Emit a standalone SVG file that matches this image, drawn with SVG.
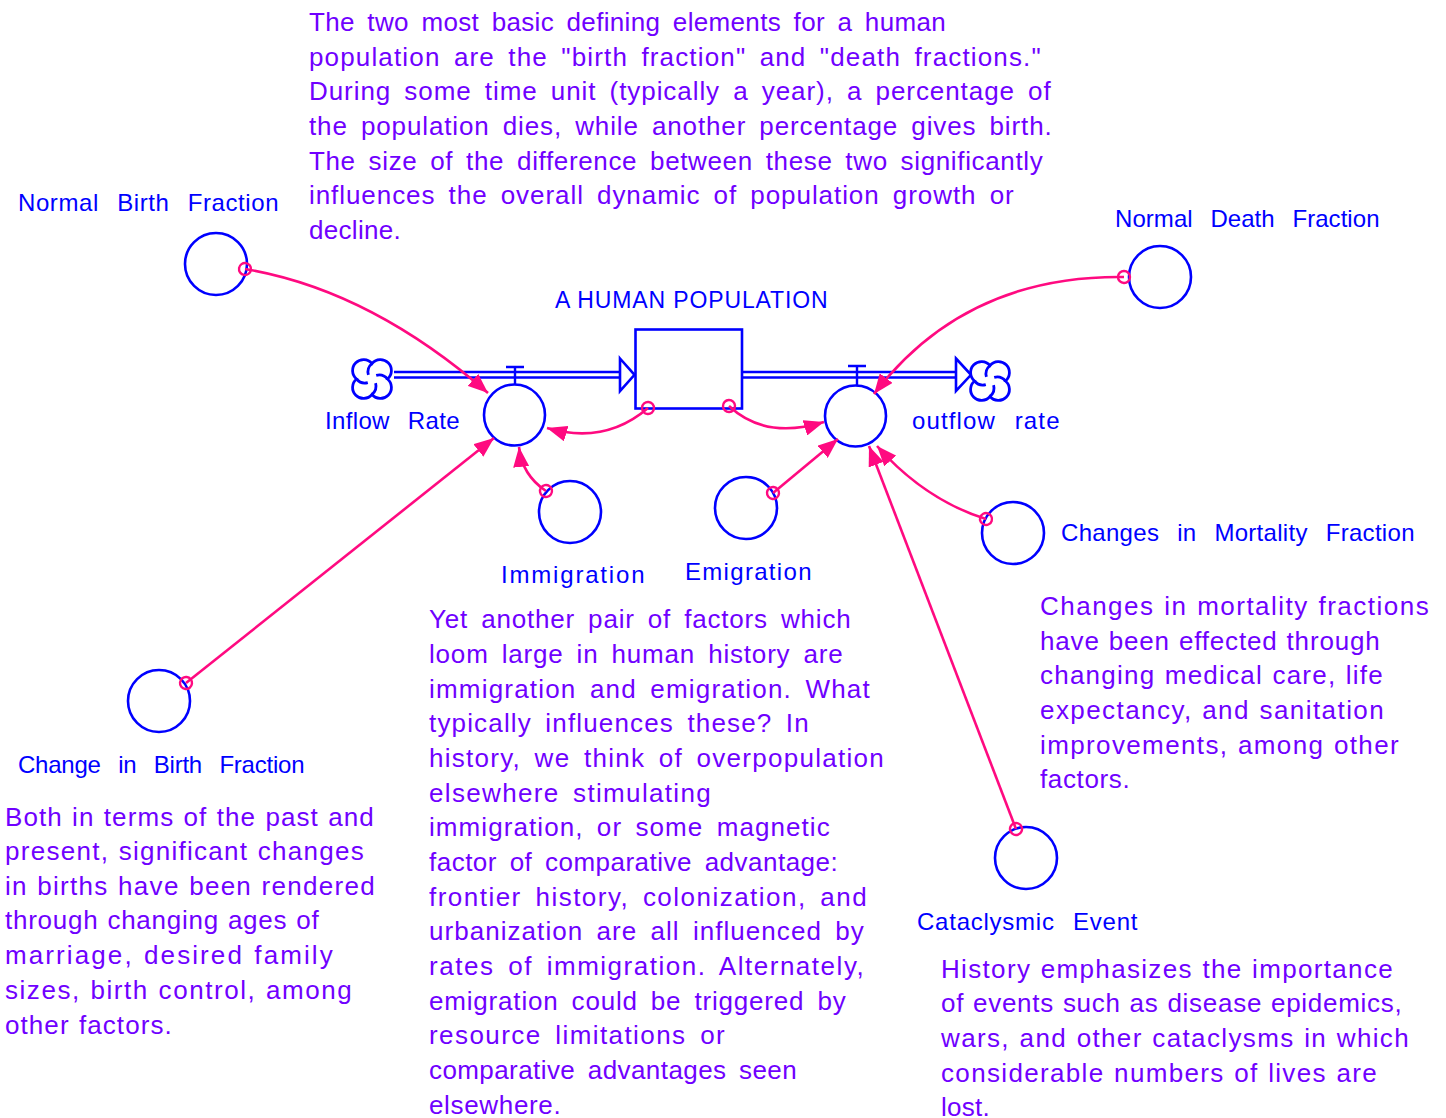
<svg xmlns="http://www.w3.org/2000/svg" width="1446" height="1118" viewBox="0 0 1446 1118">
<defs>
<style>
.lbl{font-family:"Liberation Sans",Arial,sans-serif;font-size:24px;fill:#0000ff;letter-spacing:0.5px;word-spacing:11px}
.note{font-family:"Liberation Sans",Arial,sans-serif;font-size:26px;fill:#7000ff;letter-spacing:0.3px;word-spacing:5px}
.tight .note{word-spacing:1px}
.aux{fill:#fff;stroke:#0000ff;stroke-width:2.6}
.pipe{fill:none;stroke:#0000ff;stroke-width:2.4}
.link{fill:none;stroke:#ff0a80;stroke-width:2.6;marker-start:url(#org);marker-end:url(#arr)}
.cloud{fill:#fff;stroke:#0000ff;stroke-width:2.8}
</style>
<marker id="arr" viewBox="0 0 20 16" refX="20" refY="8" markerWidth="20" markerHeight="16" markerUnits="userSpaceOnUse" orient="auto">
<path d="M0,0 L20,8 L0,16 Z" fill="#ff0a80"/>
</marker>
<marker id="org" viewBox="0 0 18 18" refX="9" refY="9" markerWidth="18" markerHeight="18" markerUnits="userSpaceOnUse" orient="auto">
<circle cx="9" cy="9" r="6" fill="none" stroke="#ff0a80" stroke-width="2.4"/>
</marker>
<g id="cloudshape">
<path d="M0,-15.5 A11,11 0 1,1 15.5,0 A11,11 0 1,1 0,15.5 A11,11 0 1,1 -15.5,0 A11,11 0 1,1 0,-15.5 Z"/>
<path fill="none" d="M0,-15.5 A11,11 0 0,0 -3.6,-4.2 M15.5,0 A11,11 0 0,0 4.2,-3.6 M0,15.5 A11,11 0 0,0 3.6,4.2 M-15.5,0 A11,11 0 0,0 -4.2,3.6"/>
</g>
</defs>
<rect width="1446" height="1118" fill="#fff"/>

<g id="flows">
<g id="inflow-pipe">
<line class="pipe" x1="394" y1="372" x2="621" y2="372"/>
<line class="pipe" x1="394" y1="377.5" x2="621" y2="377.5"/>
<path d="M620,358.5 L634.5,374.8 L620,391 Z" fill="#fff" stroke="#0000ff" stroke-width="2.6"/>
</g>
<g id="outflow-pipe">
<line class="pipe" x1="743" y1="372" x2="957" y2="372"/>
<line class="pipe" x1="743" y1="377.5" x2="957" y2="377.5"/>
<path d="M956,358.5 L971,374.8 L956,391 Z" fill="#fff" stroke="#0000ff" stroke-width="2.6"/>
</g>
</g>

<g id="source-cloud" class="cloud"><use href="#cloudshape" x="372" y="379"/></g>
<g id="sink-cloud" class="cloud"><use href="#cloudshape" x="990" y="381"/></g>

<g id="stock">
<rect x="635.5" y="329.5" width="106.5" height="79" fill="#fff" stroke="#0000ff" stroke-width="2.6"/>
<text class="lbl" x="555" y="308" textLength="273" lengthAdjust="spacing" style="font-size:23px;letter-spacing:0.3px;word-spacing:0">A HUMAN POPULATION</text>
</g>

<g id="inflow-rate">
<path d="M506,367 H524 M515,367 V385" stroke="#0000ff" stroke-width="2.4" fill="none"/>
<circle class="aux" cx="514.5" cy="415" r="30.5"/>
<text class="lbl" x="325" y="429" textLength="135" lengthAdjust="spacing">Inflow Rate</text>
</g>

<g id="outflow-rate">
<path d="M848,366 H866 M857,366 V385" stroke="#0000ff" stroke-width="2.4" fill="none"/>
<circle class="aux" cx="855.5" cy="416" r="30.5"/>
<text class="lbl" x="912" y="429" textLength="148" lengthAdjust="spacing">outflow rate</text>
</g>

<g id="normal-birth-fraction">
<circle class="aux" cx="216" cy="264" r="31"/>
<text class="lbl" x="18" y="211" textLength="261" lengthAdjust="spacing">Normal Birth Fraction</text>
</g>

<g id="normal-death-fraction">
<circle class="aux" cx="1160" cy="277" r="31"/>
<text class="lbl" x="1115" y="227" textLength="265" lengthAdjust="spacing">Normal Death Fraction</text>
</g>

<g id="immigration">
<circle class="aux" cx="570" cy="512" r="31"/>
<text class="lbl" x="501" y="583" textLength="144" lengthAdjust="spacing">Immigration</text>
</g>

<g id="emigration">
<circle class="aux" cx="746" cy="508" r="31"/>
<text class="lbl" x="685" y="580" textLength="127" lengthAdjust="spacing">Emigration</text>
</g>

<g id="changes-in-mortality-fraction">
<circle class="aux" cx="1013" cy="533" r="31"/>
<text class="lbl" x="1061" y="541" textLength="354" lengthAdjust="spacing">Changes in Mortality Fraction</text>
</g>

<g id="change-in-birth-fraction">
<circle class="aux" cx="159" cy="701" r="31"/>
<text class="lbl" x="18" y="773" textLength="287" lengthAdjust="spacing">Change in Birth Fraction</text>
</g>

<g id="cataclysmic-event">
<circle class="aux" cx="1026" cy="858" r="31"/>
<text class="lbl" x="917" y="930" textLength="221" lengthAdjust="spacing">Cataclysmic Event</text>
</g>

<g id="connectors">
<path class="link" d="M245,269 Q370,290 488,393"/>
<path class="link" d="M648,408 Q605,445 547,428"/>
<path class="link" d="M729,406 Q765,440 824,422"/>
<path class="link" d="M1124,277 Q965,275 874,394"/>
<path class="link" d="M546,491 Q522,475 519,447"/>
<path class="link" d="M773,493 L838,439"/>
<path class="link" d="M986,519 Q925,500 877,446"/>
<path class="link" d="M1016,829 L869,446"/>
<path class="link" d="M186,683 L494,438"/>
</g>

<g id="note-top">
<text class="note" x="309" y="31" textLength="637" lengthAdjust="spacing">The two most basic defining elements for a human</text>
<text class="note" x="309" y="65.5" textLength="732" lengthAdjust="spacing">population are the "birth fraction" and "death fractions."</text>
<text class="note" x="309" y="100" textLength="742" lengthAdjust="spacing">During some time unit (typically a year), a percentage of</text>
<text class="note" x="309" y="135" textLength="743" lengthAdjust="spacing">the population dies, while another percentage gives birth.</text>
<text class="note" x="309" y="169.5" textLength="734" lengthAdjust="spacing">The size of the difference between these two significantly</text>
<text class="note" x="309" y="204" textLength="705" lengthAdjust="spacing">influences the overall dynamic of population growth or</text>
<text class="note" x="309" y="239" textLength="92" lengthAdjust="spacing">decline.</text>
</g>

<g id="note-birth" class="tight">
<text class="note" x="5" y="826" textLength="369" lengthAdjust="spacing">Both in terms of the past and</text>
<text class="note" x="5" y="860" textLength="359" lengthAdjust="spacing">present, significant changes</text>
<text class="note" x="5" y="895" textLength="370" lengthAdjust="spacing">in births have been rendered</text>
<text class="note" x="5" y="929" textLength="314" lengthAdjust="spacing">through changing ages of</text>
<text class="note" x="5" y="964" textLength="328" lengthAdjust="spacing">marriage,  desired family</text>
<text class="note" x="5" y="999" textLength="347" lengthAdjust="spacing">sizes, birth control, among</text>
<text class="note" x="5" y="1034" textLength="167" lengthAdjust="spacing">other factors.</text>
</g>

<g id="note-migration">
<text class="note" x="429" y="628" textLength="422" lengthAdjust="spacing">Yet another pair of factors which</text>
<text class="note" x="429" y="663" textLength="414" lengthAdjust="spacing">loom large in human history are</text>
<text class="note" x="429" y="698" textLength="441" lengthAdjust="spacing">immigration and emigration. What</text>
<text class="note" x="429" y="732" textLength="380" lengthAdjust="spacing">typically influences these? In</text>
<text class="note" x="429" y="767" textLength="455" lengthAdjust="spacing">history, we think of overpopulation</text>
<text class="note" x="429" y="802" textLength="282" lengthAdjust="spacing">elsewhere stimulating</text>
<text class="note" x="429" y="836" textLength="401" lengthAdjust="spacing">immigration, or some magnetic</text>
<text class="note" x="429" y="871" textLength="409" lengthAdjust="spacing">factor of comparative advantage:</text>
<text class="note" x="429" y="906" textLength="438" lengthAdjust="spacing">frontier history, colonization, and</text>
<text class="note" x="429" y="940" textLength="435" lengthAdjust="spacing">urbanization are all influenced by</text>
<text class="note" x="429" y="975" textLength="435" lengthAdjust="spacing">rates of immigration. Alternately,</text>
<text class="note" x="429" y="1010" textLength="417" lengthAdjust="spacing">emigration could be triggered by</text>
<text class="note" x="429" y="1044" textLength="296" lengthAdjust="spacing">resource limitations or</text>
<text class="note" x="429" y="1079" textLength="368" lengthAdjust="spacing">comparative advantages seen</text>
<text class="note" x="429" y="1114" textLength="132" lengthAdjust="spacing">elsewhere.</text>
</g>

<g id="note-mortality" class="tight">
<text class="note" x="1040" y="615" textLength="389" lengthAdjust="spacing">Changes in mortality fractions</text>
<text class="note" x="1040" y="650" textLength="340" lengthAdjust="spacing">have been effected through</text>
<text class="note" x="1040" y="684" textLength="343" lengthAdjust="spacing">changing medical care, life</text>
<text class="note" x="1040" y="719" textLength="344" lengthAdjust="spacing">expectancy,  and sanitation</text>
<text class="note" x="1040" y="754" textLength="359" lengthAdjust="spacing">improvements, among other</text>
<text class="note" x="1040" y="788" textLength="90" lengthAdjust="spacing">factors.</text>
</g>

<g id="note-cataclysm" class="tight">
<text class="note" x="941" y="978" textLength="452" lengthAdjust="spacing">History emphasizes the importance</text>
<text class="note" x="941" y="1012" textLength="461" lengthAdjust="spacing">of events such as disease epidemics,</text>
<text class="note" x="941" y="1047" textLength="468" lengthAdjust="spacing">wars, and other cataclysms in which</text>
<text class="note" x="941" y="1082" textLength="436" lengthAdjust="spacing">considerable numbers of lives are</text>
<text class="note" x="941" y="1116" textLength="49" lengthAdjust="spacing">lost.</text>
</g>
</svg>
